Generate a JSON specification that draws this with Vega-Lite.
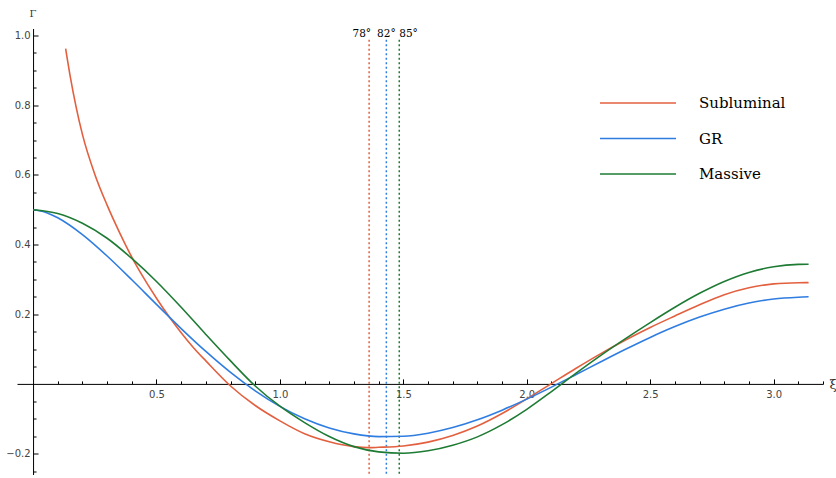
{
  "$schema": "https://vega.github.io/schema/vega-lite/v6.json",
  "autosize": {"type": "none"},
  "padding": {"left": 17, "top": 28.5, "right": 13, "bottom": 3.5},
  "width": 806,
  "height": 446,
  "background": "white",
  "config": {"view": {"stroke": null}},
  "datasets": {
    "curves": [
      {"series": "Subluminal", "xi": 0.132, "g": 0.962},
      {"series": "Subluminal", "xi": 0.15, "g": 0.885},
      {"series": "Subluminal", "xi": 0.175, "g": 0.793},
      {"series": "Subluminal", "xi": 0.2, "g": 0.716},
      {"series": "Subluminal", "xi": 0.25, "g": 0.602},
      {"series": "Subluminal", "xi": 0.3, "g": 0.513},
      {"series": "Subluminal", "xi": 0.35, "g": 0.435},
      {"series": "Subluminal", "xi": 0.4, "g": 0.364},
      {"series": "Subluminal", "xi": 0.45, "g": 0.302},
      {"series": "Subluminal", "xi": 0.5, "g": 0.246},
      {"series": "Subluminal", "xi": 0.55, "g": 0.194},
      {"series": "Subluminal", "xi": 0.6, "g": 0.147},
      {"series": "Subluminal", "xi": 0.65, "g": 0.104},
      {"series": "Subluminal", "xi": 0.7, "g": 0.066},
      {"series": "Subluminal", "xi": 0.8, "g": -0.006},
      {"series": "Subluminal", "xi": 0.9, "g": -0.062},
      {"series": "Subluminal", "xi": 1.0, "g": -0.106},
      {"series": "Subluminal", "xi": 1.1, "g": -0.143},
      {"series": "Subluminal", "xi": 1.2, "g": -0.166},
      {"series": "Subluminal", "xi": 1.3, "g": -0.18},
      {"series": "Subluminal", "xi": 1.36, "g": -0.183},
      {"series": "Subluminal", "xi": 1.4, "g": -0.182},
      {"series": "Subluminal", "xi": 1.5, "g": -0.178},
      {"series": "Subluminal", "xi": 1.6, "g": -0.167},
      {"series": "Subluminal", "xi": 1.7, "g": -0.148},
      {"series": "Subluminal", "xi": 1.8, "g": -0.121},
      {"series": "Subluminal", "xi": 1.9, "g": -0.085},
      {"series": "Subluminal", "xi": 2.0, "g": -0.043},
      {"series": "Subluminal", "xi": 2.1, "g": 0.001},
      {"series": "Subluminal", "xi": 2.2, "g": 0.045},
      {"series": "Subluminal", "xi": 2.3, "g": 0.087},
      {"series": "Subluminal", "xi": 2.4, "g": 0.126},
      {"series": "Subluminal", "xi": 2.5, "g": 0.162},
      {"series": "Subluminal", "xi": 2.6, "g": 0.195},
      {"series": "Subluminal", "xi": 2.7, "g": 0.227},
      {"series": "Subluminal", "xi": 2.8, "g": 0.256},
      {"series": "Subluminal", "xi": 2.9, "g": 0.276},
      {"series": "Subluminal", "xi": 3.0, "g": 0.287},
      {"series": "Subluminal", "xi": 3.1, "g": 0.2905},
      {"series": "Subluminal", "xi": 3.1416, "g": 0.2907},
      {"series": "GR", "xi": 0, "g": 0.5},
      {"series": "GR", "xi": 0.05, "g": 0.4929},
      {"series": "GR", "xi": 0.1, "g": 0.4769},
      {"series": "GR", "xi": 0.2, "g": 0.4286},
      {"series": "GR", "xi": 0.3, "g": 0.3671},
      {"series": "GR", "xi": 0.4, "g": 0.2988},
      {"series": "GR", "xi": 0.5, "g": 0.2282},
      {"series": "GR", "xi": 0.6, "g": 0.1588},
      {"series": "GR", "xi": 0.7, "g": 0.0931},
      {"series": "GR", "xi": 0.8, "g": 0.033},
      {"series": "GR", "xi": 0.9, "g": -0.0198},
      {"series": "GR", "xi": 1.0, "g": -0.0644},
      {"series": "GR", "xi": 1.1, "g": -0.1},
      {"series": "GR", "xi": 1.2, "g": -0.1264},
      {"series": "GR", "xi": 1.3, "g": -0.1434},
      {"series": "GR", "xi": 1.4, "g": -0.1512},
      {"series": "GR", "xi": 1.5, "g": -0.1504},
      {"series": "GR", "xi": 1.6, "g": -0.1415},
      {"series": "GR", "xi": 1.7, "g": -0.1253},
      {"series": "GR", "xi": 1.8, "g": -0.1029},
      {"series": "GR", "xi": 1.9, "g": -0.0753},
      {"series": "GR", "xi": 2.0, "g": -0.0437},
      {"series": "GR", "xi": 2.1, "g": -0.0092},
      {"series": "GR", "xi": 2.2, "g": 0.027},
      {"series": "GR", "xi": 2.3, "g": 0.0636},
      {"series": "GR", "xi": 2.4, "g": 0.0994},
      {"series": "GR", "xi": 2.5, "g": 0.1334},
      {"series": "GR", "xi": 2.6, "g": 0.1645},
      {"series": "GR", "xi": 2.7, "g": 0.1918},
      {"series": "GR", "xi": 2.8, "g": 0.2145},
      {"series": "GR", "xi": 2.9, "g": 0.232},
      {"series": "GR", "xi": 3.0, "g": 0.2438},
      {"series": "GR", "xi": 3.1, "g": 0.2489},
      {"series": "GR", "xi": 3.1416, "g": 0.25},
      {"series": "Massive", "xi": 0, "g": 0.5},
      {"series": "Massive", "xi": 0.1, "g": 0.489},
      {"series": "Massive", "xi": 0.2, "g": 0.461},
      {"series": "Massive", "xi": 0.3, "g": 0.418},
      {"series": "Massive", "xi": 0.4, "g": 0.36},
      {"series": "Massive", "xi": 0.5, "g": 0.294},
      {"series": "Massive", "xi": 0.6, "g": 0.22},
      {"series": "Massive", "xi": 0.7, "g": 0.142},
      {"series": "Massive", "xi": 0.8, "g": 0.066},
      {"series": "Massive", "xi": 0.9, "g": -0.006},
      {"series": "Massive", "xi": 1.0, "g": -0.064},
      {"series": "Massive", "xi": 1.1, "g": -0.111},
      {"series": "Massive", "xi": 1.2, "g": -0.151},
      {"series": "Massive", "xi": 1.3, "g": -0.18},
      {"series": "Massive", "xi": 1.4, "g": -0.195},
      {"series": "Massive", "xi": 1.5, "g": -0.199},
      {"series": "Massive", "xi": 1.6, "g": -0.192},
      {"series": "Massive", "xi": 1.7, "g": -0.176},
      {"series": "Massive", "xi": 1.8, "g": -0.152},
      {"series": "Massive", "xi": 1.9, "g": -0.117},
      {"series": "Massive", "xi": 2.0, "g": -0.073},
      {"series": "Massive", "xi": 2.1, "g": -0.022},
      {"series": "Massive", "xi": 2.2, "g": 0.031},
      {"series": "Massive", "xi": 2.3, "g": 0.082},
      {"series": "Massive", "xi": 2.4, "g": 0.13},
      {"series": "Massive", "xi": 2.5, "g": 0.176},
      {"series": "Massive", "xi": 2.6, "g": 0.22},
      {"series": "Massive", "xi": 2.7, "g": 0.26},
      {"series": "Massive", "xi": 2.8, "g": 0.294},
      {"series": "Massive", "xi": 2.9, "g": 0.32},
      {"series": "Massive", "xi": 3.0, "g": 0.336},
      {"series": "Massive", "xi": 3.1, "g": 0.343},
      {"series": "Massive", "xi": 3.1416, "g": 0.3435}
    ],
    "angles": [
      {"series": "Subluminal", "deg": 78, "xi": 1.3614, "label": "78°"},
      {"series": "GR", "deg": 82, "xi": 1.4312, "label": "82°"},
      {"series": "Massive", "deg": 85, "xi": 1.4835, "label": "85°"}
    ]
  },
  "resolve": {"axis": {"x": "independent", "y": "independent"}},
  "layer": [
    {
      "data": {"name": "angles"},
      "mark": {"type": "rule", "strokeWidth": 1.5, "strokeDash": [2, 2.5]},
      "encoding": {
        "x": {"field": "xi", "type": "quantitative",
              "scale": {"domain": [-0.065, 3.2], "nice": false, "zero": false},
              "axis": {"orient": "bottom", "offset": -90.6, "title": null, "labels": false, "domain": false, "grid": false,
                       "ticks": true, "tickSize": -3, "tickColor": "black", "tickWidth": 1,
                       "values": [0.1, 0.2, 0.3, 0.4, 0.6, 0.7, 0.8, 0.9, 1.1, 1.2, 1.3, 1.4, 1.6, 1.7, 1.8, 1.9, 2.1, 2.2, 2.3, 2.4, 2.6, 2.7, 2.8, 2.9, 3.1, 3.2]}},
        "y": {"datum": 0.988, "type": "quantitative",
              "scale": {"domain": [-0.26, 1.02], "nice": false, "zero": false},
              "axis": {"orient": "left", "offset": -16.05, "title": null, "labels": false, "domain": false, "grid": false,
                       "ticks": true, "tickSize": -3, "tickColor": "black", "tickWidth": 1,
                       "values": [-0.25, -0.15, -0.1, -0.05, 0.05, 0.1, 0.15, 0.25, 0.3, 0.35, 0.45, 0.5, 0.55, 0.65, 0.7, 0.75, 0.85, 0.9, 0.95]}},
        "y2": {"datum": -0.26},
        "color": {"field": "series", "type": "nominal",
                  "scale": {"domain": ["Subluminal", "GR", "Massive"], "range": ["#E2603F", "#2F7DE1", "#1E7B34"]},
                  "legend": {"orient": "none", "legendX": 582, "legendY": 64.5, "title": null, "padding": 0,
                             "symbolType": "stroke", "symbolSize": 5776, "symbolStrokeWidth": 1.6, "symbolDash": [],
                             "clipHeight": 20, "rowPadding": 15.5, "labelOffset": 22,
                             "labelFont": "DejaVu Serif", "labelFontSize": 15, "labelColor": "black", "labelLimit": 200}}
      }
    },
    {
      "data": {"name": "curves"},
      "mark": {"type": "line", "strokeWidth": 1.6, "interpolate": "monotone"},
      "encoding": {
        "x": {"field": "xi", "type": "quantitative",
              "scale": {"domain": [-0.065, 3.2], "nice": false, "zero": false},
              "axis": {"orient": "bottom", "offset": -90.6, "values": [0.5, 1, 1.5, 2, 2.5, 3], "format": ".1f",
                       "ticks": false, "domain": true, "domainColor": "black", "domainWidth": 1, "grid": false,
                       "labelFont": "DejaVu Sans", "labelFontSize": 10, "labelColor": "#444", "labelPadding": 6,
                       "title": "ξ", "titleX": 812, "titleY": 1, "titleAlign": "left", "titleBaseline": "middle",
                       "titleFont": "DejaVu Serif", "titleFontSize": 13, "titleFontWeight": "normal", "titleColor": "#333"}},
        "y": {"field": "g", "type": "quantitative",
              "scale": {"domain": [-0.26, 1.02], "nice": false, "zero": false},
              "axis": {"orient": "left", "offset": -16.05, "values": [-0.2, 0.2, 0.4, 0.6, 0.8, 1.0], "format": ".1f",
                       "ticks": false, "domain": true, "domainColor": "black", "domainWidth": 1, "grid": false,
                       "labelFont": "DejaVu Sans", "labelFontSize": 10, "labelColor": "#444", "labelPadding": 3,
                       "title": "Γ", "titleAngle": 0, "titleX": -0.5, "titleY": -15, "titleAlign": "center", "titleBaseline": "middle",
                       "titleFont": "DejaVu Serif", "titleFontSize": 10, "titleFontWeight": "normal", "titleColor": "#333"}},
        "color": {"field": "series", "type": "nominal",
                  "scale": {"domain": ["Subluminal", "GR", "Massive"], "range": ["#E2603F", "#2F7DE1", "#1E7B34"]},
                  "legend": {"orient": "none", "legendX": 582, "legendY": 64.5, "title": null, "padding": 0,
                             "symbolType": "stroke", "symbolSize": 5776, "symbolStrokeWidth": 1.6, "symbolDash": [],
                             "clipHeight": 20, "rowPadding": 15.5, "labelOffset": 22,
                             "labelFont": "DejaVu Serif", "labelFontSize": 15, "labelColor": "black", "labelLimit": 200}}
      }
    },
    {
      "data": {"name": "angles"},
      "transform": [{"filter": "datum.deg == 78"}],
      "mark": {"type": "text", "align": "right", "baseline": "alphabetic", "dx": 2, "font": "DejaVu Serif", "fontSize": 10.5, "color": "black"},
      "encoding": {
        "x": {"field": "xi", "type": "quantitative",
              "axis": {"orient": "bottom", "offset": -90.6, "title": null, "labels": false, "domain": false, "grid": false,
                       "ticks": true, "tickSize": -5, "tickColor": "black", "tickWidth": 1,
                       "values": [0.5, 1, 1.5, 2, 2.5, 3]}},
        "y": {"datum": 0.996, "type": "quantitative",
              "axis": {"orient": "left", "offset": -16.05, "title": null, "labels": false, "domain": false, "grid": false,
                       "ticks": true, "tickSize": -5, "tickColor": "black", "tickWidth": 1,
                       "values": [-0.2, 0.2, 0.4, 0.6, 0.8, 1.0]}},
        "text": {"field": "label"}
      }
    },
    {
      "data": {"name": "angles"},
      "transform": [{"filter": "datum.deg == 82"}],
      "mark": {"type": "text", "align": "center", "baseline": "alphabetic", "font": "DejaVu Serif", "fontSize": 10.5, "color": "black"},
      "encoding": {
        "x": {"field": "xi", "type": "quantitative", "axis": null},
        "y": {"datum": 0.996, "type": "quantitative", "axis": null},
        "text": {"field": "label"}
      }
    },
    {
      "data": {"name": "angles"},
      "transform": [{"filter": "datum.deg == 85"}],
      "mark": {"type": "text", "align": "left", "baseline": "alphabetic", "dx": 0, "font": "DejaVu Serif", "fontSize": 10.5, "color": "black"},
      "encoding": {
        "x": {"field": "xi", "type": "quantitative", "axis": null},
        "y": {"datum": 0.996, "type": "quantitative", "axis": null},
        "text": {"field": "label"}
      }
    }
  ]
}
